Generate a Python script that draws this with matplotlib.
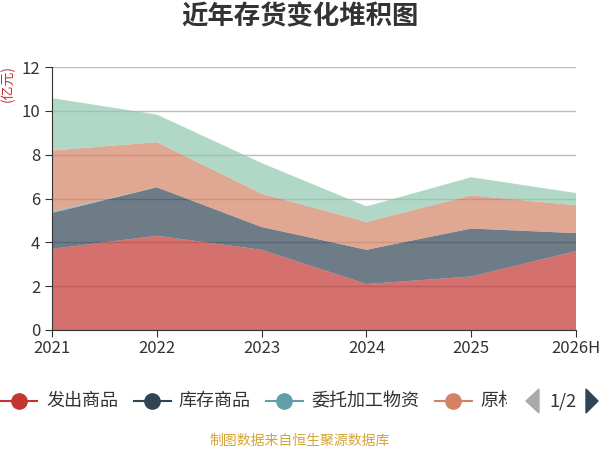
import matplotlib
matplotlib.use('Agg')
import matplotlib.pyplot as plt
from matplotlib.lines import Line2D
from matplotlib.patches import Polygon
from matplotlib.transforms import Bbox

plt.rcParams['font.family'] = ['Noto Sans CJK SC', 'DejaVu Sans']

years = ['2021', '2022', '2023', '2024', '2025', '2026H']
series_names = ['发出商品', '库存商品', '委托加工物资', '原材料', '在产品']
fachu = [3.70, 4.30, 3.66, 2.10, 2.44, 3.60]
kucun = [1.64, 2.21, 1.04, 1.56, 2.19, 0.82]
weituo = [0.07, 0.0, 0.0, 0.0, 0.0, 0.0]
yuancai = [2.78, 2.06, 1.52, 1.27, 1.51, 1.27]
zaichan = [2.39, 1.26, 1.40, 0.71, 0.83, 0.56]
colors = ['#c23531', '#2f4554', '#61a0a8', '#d48265', '#91c7ae']

fig = plt.figure(figsize=(6, 4.5), dpi=100)
ax = fig.add_axes([52 / 600, 120 / 450, 524 / 600, 263 / 450])

x = list(range(len(years)))
ax.stackplot(x, fachu, kucun, weituo, yuancai, zaichan, colors=colors, alpha=0.7, linewidth=0)

ax.set_xlim(0, len(years) - 1)
ax.set_ylim(0, 12)
ax.set_yticks(range(0, 13, 2))
ax.set_xticks(x)
ax.set_xticklabels(years)
ax.grid(axis='y', color='#bbbbbb', linewidth=1)
ax.set_axisbelow(True)
for s in ['top', 'right']:
    ax.spines[s].set_visible(False)
for s in ['left', 'bottom']:
    ax.spines[s].set_color('#333333')
    ax.spines[s].set_zorder(5)
ax.tick_params(colors='#333333', labelsize=12, length=5, direction='out')
ax.tick_params(axis='x', pad=2)

fig.text(0.5, 1 - 17 / 450, '近年存货变化堆积图', ha='center', va='center',
         fontsize=19, fontweight='bold', color='#333333')
fig.text(8 / 600, 1 - 84 / 450, '(亿元)', rotation=90, ha='center', va='center',
         fontsize=10, color='#c23531')
fig.text(0.5, 1 - 441 / 450, '制图数据来自恒生聚源数据库', ha='center', va='center',
         fontsize=10, color='#d4a53a')

# legend (page 1 of 2)
ly = 1 - 401 / 450
items = [(0, 19, 46), (134, 152, 178), (266, 284, 311), (435, 453, 480)]
for i, (lx, cx, tx) in enumerate(items):
    fig.add_artist(Line2D([lx / 600, (lx + 37) / 600], [ly, ly], color=colors[i], linewidth=1.5))
    fig.add_artist(Line2D([cx / 600], [ly], marker='o', markersize=11, color=colors[i]))
    t = fig.text(tx / 600, ly, series_names[i], ha='left', va='center', fontsize=13, color='#333333')
    if i == 3:
        t.set_clip_on(True)
        t.set_clip_box(Bbox.from_extents(0, 0, 507, 450))

fig.add_artist(Polygon([[539 / 600, 1 - 389 / 450], [539 / 600, 1 - 413 / 450], [526 / 600, ly]],
                       closed=True, color='#aaaaaa', transform=fig.transFigure))
fig.text(563 / 600, ly, '1/2', ha='center', va='center', fontsize=13, color='#333333')
fig.add_artist(Polygon([[586 / 600, 1 - 389 / 450], [586 / 600, 1 - 413 / 450], [598 / 600, ly]],
                       closed=True, color='#2f4554', transform=fig.transFigure))

fig.savefig('out.png', dpi=100)
